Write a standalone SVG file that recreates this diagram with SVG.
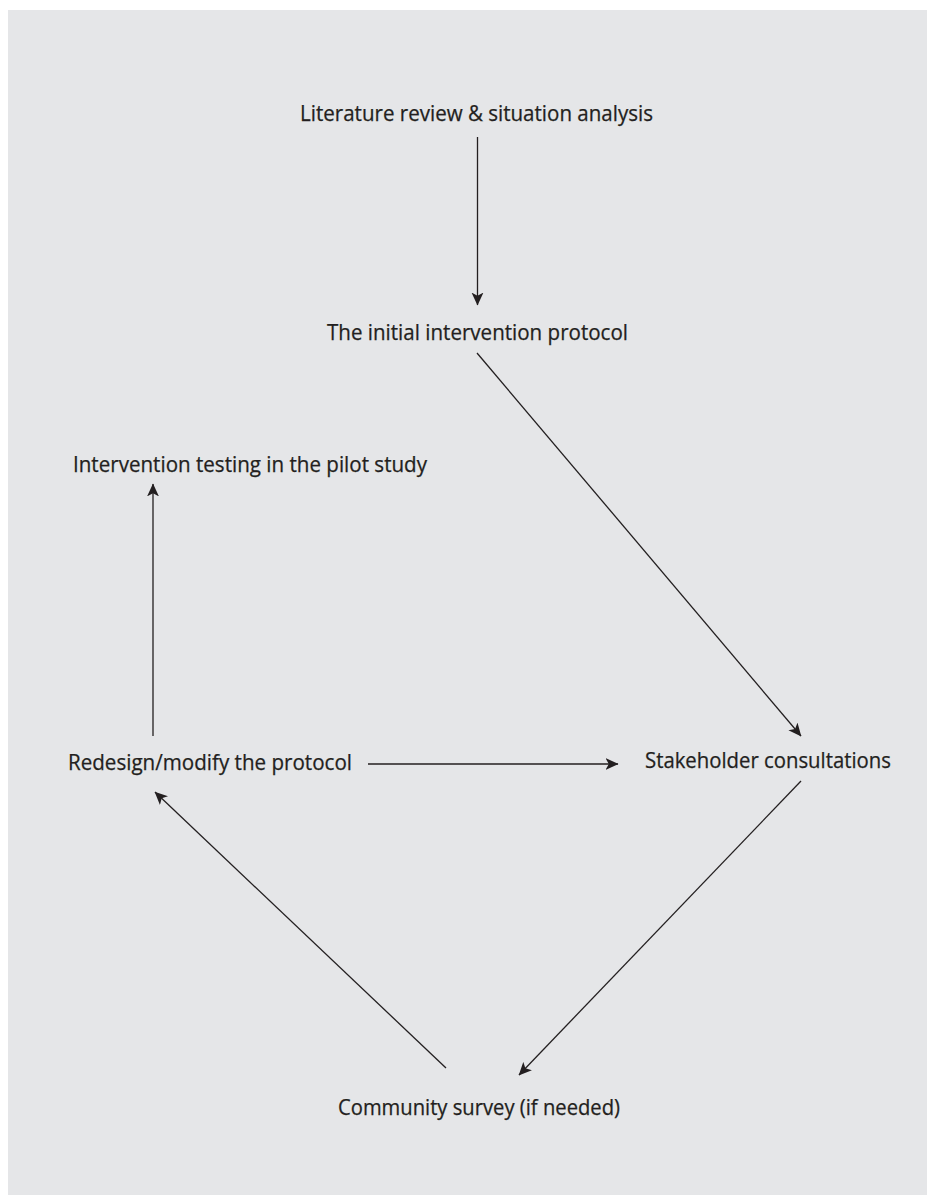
<svg xmlns="http://www.w3.org/2000/svg" width="927" height="1195" viewBox="0 0 927 1195">
  <defs>
    <style>
      .lbl { font-family: "Open Sans", "Noto Sans", "Liberation Sans", sans-serif; font-size: 21px; fill: #231f20; stroke: #231f20; stroke-width: 0.25; }
      .edge { stroke: #231f20; stroke-width: 1.3; fill: none; marker-end: url(#arrow); }
    </style>
    <marker id="arrow" viewBox="0 0 12 12" refX="11.5" refY="6" markerWidth="13" markerHeight="13" markerUnits="userSpaceOnUse" orient="auto">
      <path d="M0,0.5 L12,6 L0,11.5 L3,6 Z" fill="#231f20"/>
    </marker>
  </defs>

  <rect x="0" y="0" width="927" height="1195" fill="#ffffff"/>
  <rect x="8" y="10" width="919" height="1185" fill="#e5e6e8"/>

  <g id="connectors">
    <line class="edge" x1="477.5" y1="137" x2="477.5" y2="305"/>
    <line class="edge" x1="477" y1="353" x2="801" y2="736"/>
    <line class="edge" x1="153" y1="736" x2="153" y2="484"/>
    <line class="edge" x1="368" y1="764" x2="618" y2="764"/>
    <line class="edge" x1="801" y1="781" x2="519" y2="1075"/>
    <line class="edge" x1="446" y1="1068" x2="155" y2="792"/>
  </g>

  <g id="node-literature">
    <text class="lbl" x="300" y="120.5" textLength="353" lengthAdjust="spacingAndGlyphs">Literature review &amp; situation analysis</text>
  </g>
  <g id="node-initial">
    <text class="lbl" x="327" y="339.5" textLength="301" lengthAdjust="spacingAndGlyphs">The initial intervention protocol</text>
  </g>
  <g id="node-testing">
    <text class="lbl" x="73" y="471.5" textLength="354" lengthAdjust="spacingAndGlyphs">Intervention testing in the pilot study</text>
  </g>
  <g id="node-redesign">
    <text class="lbl" x="68" y="769.5" textLength="284" lengthAdjust="spacingAndGlyphs">Redesign/modify the protocol</text>
  </g>
  <g id="node-stakeholder">
    <text class="lbl" x="645" y="767.5" textLength="246" lengthAdjust="spacingAndGlyphs">Stakeholder consultations</text>
  </g>
  <g id="node-survey">
    <text class="lbl" x="338" y="1114.5" textLength="282" lengthAdjust="spacingAndGlyphs">Community survey (if needed)</text>
  </g>
</svg>
